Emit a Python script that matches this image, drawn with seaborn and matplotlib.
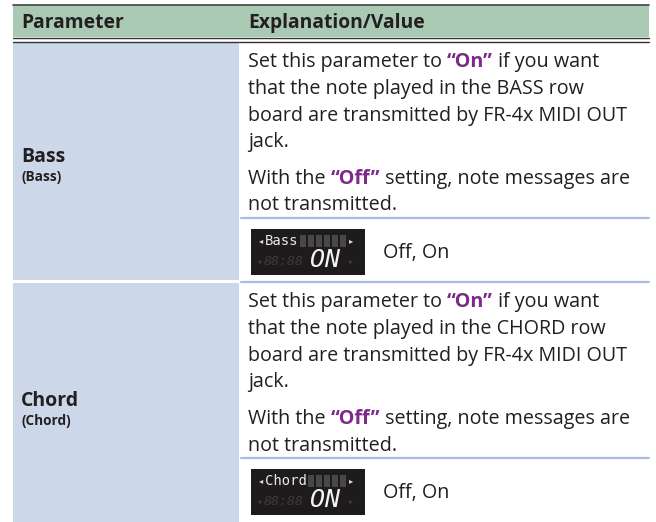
import matplotlib
matplotlib.use('Agg')
import matplotlib.pyplot as plt
from matplotlib.patches import Rectangle
import seaborn as sns

# table content
header = ['Parameter', 'Explanation/Value']
params = ['Bass', 'Chord']
row_names = ['BASS', 'CHORD']
values = ['Off, On', 'Off, On']
lcd_values = ['ON', 'ON']
# each line is a list of (text, highlighted) pieces; {} is the row name
para1 = [
    [('Set this parameter to ', False), ('\u201cOn\u201d', True), (' if you want', False)],
    [('that the note played in the {} row', False)],
    [('board are transmitted by FR-4x MIDI OUT', False)],
    [('jack.', False)],
]
para2 = [
    [('With the ', False), ('\u201cOff\u201d', True), (' setting, note messages are', False)],
    [('not transmitted.', False)],
]

sns.set_theme(style='white')
plt.rcParams['font.family'] = ['Open Sans', 'DejaVu Sans']

green = '#a9c9b3'
blue = '#ccd8e9'
line_blue = '#a9bedf'
purple = '#7d2a8c'
dark = '#231f20'

fig = plt.figure(figsize=(6.56, 5.22), dpi=100)
ax = fig.add_axes([0, 0, 1, 1])
ax.set_xlim(0, 656)
ax.set_ylim(522, 0)
ax.axis('off')
renderer = fig.canvas.get_renderer()

x0, xc, x1 = 13, 240, 649
fs = 14.2

# header
ax.add_patch(Rectangle((x0, 5), x1 - x0, 32, color=green, lw=0))
ax.plot([x0, x1], [5, 5], color='#444444', lw=1.2)
ax.plot([x0, x1], [37.5, 37.5], color='#333333', lw=1.0)
ax.plot([x0, x1], [41.5, 41.5], color='#333333', lw=1.0)
ax.text(21, 23, header[0], fontsize=13.9, fontweight='bold', color=dark, va='center')
ax.text(248, 23, header[1], fontsize=13.9, fontweight='bold', color=dark, va='center')


def rich_line(x, y, pieces, name):
    for txt, hi in pieces:
        t = ax.text(x, y, txt.format(name), fontsize=fs, va='center',
                    color=purple if hi else dark,
                    fontweight='bold' if hi else 'normal')
        x += t.get_window_extent(renderer).width


def lcd(x, y, name, val):
    w, h = 114, 46
    ax.add_patch(Rectangle((x, y), w, h, color='#1e1b1c', lw=0))
    ax.text(x + 8, y + 12, '\u25c2', fontsize=6, color='#dddddd', va='center')
    t = ax.text(x + 14, y + 12, name, fontsize=10, color='#e8e8e8', va='center',
                family='DejaVu Sans Mono')
    bx = x + 14 + t.get_window_extent(renderer).width + 1
    while bx < x + 90:
        ax.add_patch(Rectangle((bx, y + 6), 6, 12, color='#4a4748', lw=0))
        bx += 8
    ax.text(x + 98, y + 12, '\u25b8', fontsize=6, color='#dddddd', va='center')
    ax.text(x + 6, y + 32, '\u25c2', fontsize=6, color='#3c393a', va='center')
    ax.text(x + 13, y + 32, '88:88', fontsize=9.5, color='#3c393a', va='center',
            family='DejaVu Sans Mono', fontstyle='italic')
    ax.text(x + 59, y + 31, val, fontsize=18, color='#f4f4f4', va='center',
            family='DejaVu Sans Mono', fontstyle='italic', fontweight='light')
    ax.text(x + 98, y + 32, '\u25b8', fontsize=6, color='#3c393a', va='center')


row_tops = [43, 283]
row_bottoms = [280, 530]
for i, p in enumerate(params):
    top, bot = row_tops[i], row_bottoms[i]
    ax.add_patch(Rectangle((x0, top), xc - x0 - 1, bot - top, color=blue, lw=0))
    mid = (top + bot) / 2
    ax.text(21, mid - 5, p, fontsize=14, fontweight='bold', color=dark, va='center')
    ax.text(21, mid + 15, '(' + p + ')', fontsize=9.8, fontweight='bold', color=dark,
            va='center')
    y = top + 19
    for ln in para1:
        rich_line(248, y, ln, row_names[i])
        y += 26.8
    y += 9.5
    for ln in para2:
        rich_line(248, y, ln, row_names[i])
        y += 26.8
    ysep = y - 14
    ax.plot([xc + 1, x1], [ysep, ysep], color=line_blue, lw=1.6)
    lcd(251, ysep + 11, p, lcd_values[i])
    ax.text(383, ysep + 35, values[i], fontsize=fs, color=dark, va='center')
    if i < len(params) - 1:
        ax.plot([xc + 1, x1], [bot + 1.5, bot + 1.5], color=line_blue, lw=1.6)

fig.savefig('out.png', dpi=100)
